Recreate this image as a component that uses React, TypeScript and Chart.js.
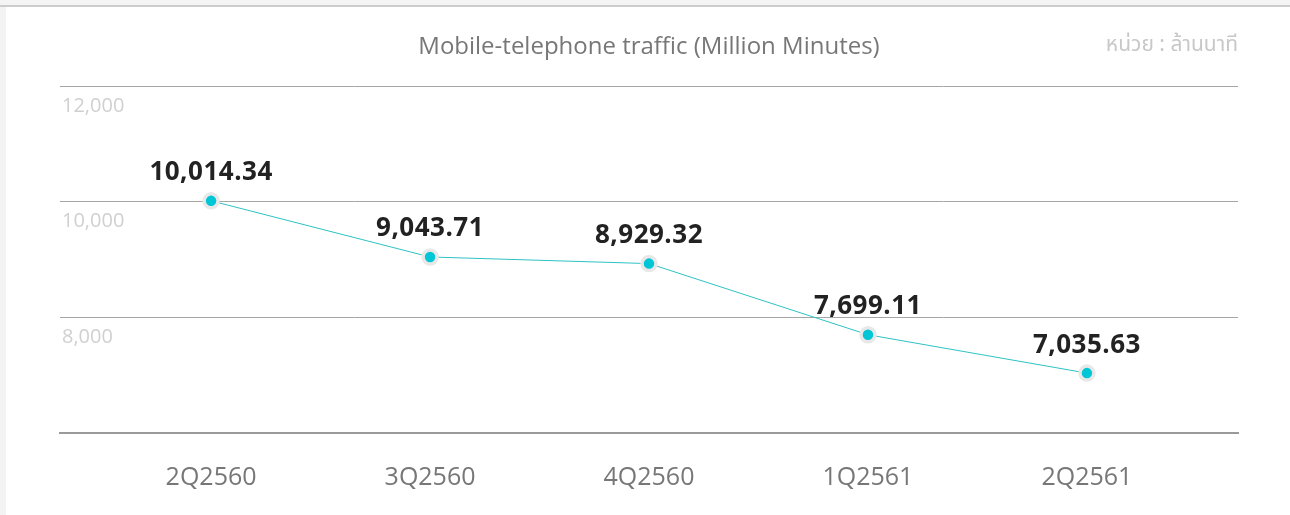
import React, { useEffect, useRef } from "react";
import { Chart, registerables } from "chart.js";

Chart.register(...registerables);

const categories = ["2Q2560", "3Q2560", "4Q2560", "1Q2561", "2Q2561"];
const trafficValues = [10014.34, 9043.71, 8929.32, 7699.11, 7035.63];
const yTicks = [6000, 8000, 10000, 12000];
const titleText = "Mobile-telephone traffic (Million Minutes)";
const unitText = "หน่วย : ล้านนาที";

const FONT = "'Open Sans', 'Noto Sans', sans-serif";

export default function App() {
  const ref = useRef<HTMLCanvasElement | null>(null);

  useEffect(() => {
    document.body.style.margin = "0";
    document.body.style.background = "#ffffff";
    const canvas = ref.current;
    if (!canvas) return;

    const labelsPlugin = {
      id: "valueLabels",
      afterDatasetsDraw(chart: any) {
        const ctx = chart.ctx;
        const meta = chart.getDatasetMeta(0);
        ctx.save();
        ctx.font = `bold 26px ${FONT}`;
        try { (ctx as any).letterSpacing = "0.5px"; } catch (e) {}
        ctx.fillStyle = "#222222";
        ctx.textAlign = "center";
        ctx.textBaseline = "middle";
        meta.data.forEach((pt: any, i: number) => {
          const v = trafficValues[i];
          const txt = v.toLocaleString("en-US", { minimumFractionDigits: 2, maximumFractionDigits: 2 });
          ctx.fillText(txt, pt.x, pt.y - 28);
        });
        ctx.restore();
      },
      afterDraw(chart: any) {
        const ctx = chart.ctx;
        ctx.save();
        ctx.textBaseline = "middle";
        ctx.font = `24px ${FONT}`;
        ctx.fillStyle = "#777777";
        ctx.textAlign = "center";
        ctx.fillText(titleText, 649, 47);
        ctx.font = `21px 'Noto Sans Thai', 'Noto Sans', ${FONT}`;
        ctx.fillStyle = "#c8c8c8";
        ctx.textAlign = "right";
        ctx.fillText(unitText, chart.chartArea.right, 47);
        ctx.restore();
      },
    };

    const chart = new Chart(canvas, {
      type: "line",
      data: {
        datasets: [
          {
            data: trafficValues.map((v, i) => ({ x: i, y: v })),
            borderColor: "#2ec2c4",
            borderWidth: 1,
            pointRadius: 7,
            pointBorderWidth: 3.5,
            pointBackgroundColor: "#00c6d6",
            pointBorderColor: "#e8e8e8",
            fill: false,
            tension: 0,
          },
        ],
      },
      options: {
        animation: false,
        responsive: false,
        devicePixelRatio: 1,
        layout: { padding: { left: 60, right: 52, top: 86, bottom: 0 } },
        plugins: {
          legend: { display: false },
          tooltip: { enabled: false },
          title: { display: false },
        },
        scales: {
          x: {
            type: "linear",
            min: -0.69,
            max: 4.69,
            afterBuildTicks: (s: any) => {
              s.ticks = categories.map((_, i) => ({ value: i }));
            },
            afterFit: (s: any) => {
              s.height = 82;
            },
            grid: { display: false, drawTicks: false },
            border: { display: true, color: "#9a9a9a", width: 2 },
            ticks: {
              autoSkip: false,
              maxRotation: 0,
              padding: 30,
              color: "#777777",
              font: { family: FONT, size: 25 },
              callback: (v: any) => categories[v] ?? "",
            },
          },
          y: {
            min: 6000,
            max: 12000,
            afterBuildTicks: (s: any) => {
              s.ticks = yTicks.map((v) => ({ value: v }));
            },
            afterFit: (s: any) => {
              s.width = 0;
            },
            grid: { color: "#a6a6a6", lineWidth: 1, drawTicks: false },
            border: { display: false },
            ticks: {
              mirror: true,
              padding: 2,
              labelOffset: 20,
              color: "#d0d0d0",
              font: { family: FONT, size: 20 },
              callback: (v: any) => (v === 6000 ? "" : Number(v).toLocaleString("en-US")),
            },
          },
        },
      },
      plugins: [labelsPlugin],
    });

    return () => chart.destroy();
  }, []);

  return (
    <div style={{ position: "relative", width: 1290, height: 515, background: "#ffffff" }}>
      <div style={{ position: "absolute", left: 0, top: 0, width: 1290, height: 5, background: "#f4f4f4" }} />
      <div style={{ position: "absolute", left: 0, top: 5, width: 1290, height: 2, background: "#cccccc" }} />
      <div style={{ position: "absolute", left: 0, top: 7, width: 6, height: 508, background: "#f3f3f3" }} />
      <canvas ref={ref} width={1290} height={515} style={{ position: "absolute", left: 0, top: 0 }} />
    </div>
  );
}
